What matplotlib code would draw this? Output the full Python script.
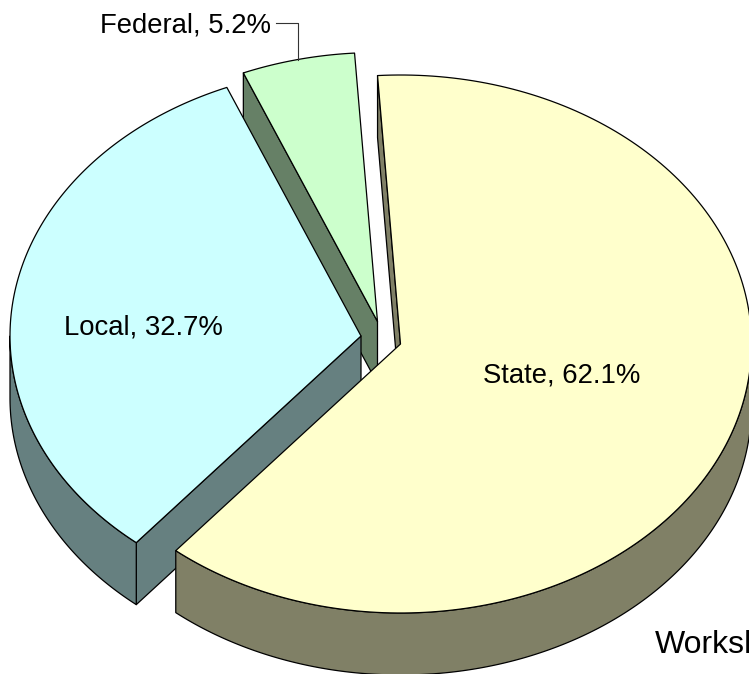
import matplotlib
matplotlib.use("Agg")
import matplotlib.pyplot as plt
from matplotlib.patches import Polygon
import numpy as np

# shares in the order they run clockwise round the pie
CATEGORIES = ["State", "Local", "Federal"]
VALUES = [62.1, 32.7, 5.2]

TOP_COLORS = ["#FFFFCC", "#CCFFFF", "#CCFFCC"]
SIDE_COLORS = ["#808066", "#668080", "#668066"]

# pixel layout of the exploded pie
APEX = [(400.5, 344), (361, 336), (377.5, 321.5)]
LABEL_POS = [(561.5, 382), (143.5, 334), (271, 33)]
LABEL_HA = ["center", "center", "right"]
RX, RY = 351, 269
DEPTH = 62
START_ANGLE = -3.75
EDGE_LW = 0.9


def rim(apex, a0, a1, n=200):
    # points on the ellipse, angles in degrees clockwise from the top
    t = np.radians(np.linspace(a0, a1, n))
    return np.column_stack([apex[0] + RX * np.sin(t), apex[1] - RY * np.cos(t)])


def add_poly(ax, pts, color):
    ax.add_patch(Polygon(pts, closed=True, facecolor=color, edgecolor="black",
                         linewidth=EDGE_LW, joinstyle="round", clip_on=True))


def draw_slice(ax, apex, a0, a1, top, side):
    drop = np.array([0, DEPTH])
    ax_apex = np.array(apex, dtype=float)

    # cut faces, only the ones facing the viewer
    for ang, visible in ((a0, np.sin(np.radians(a0)) < 0), (a1, np.sin(np.radians(a1)) > 0)):
        if visible:
            p = rim(apex, ang, ang, 1)[0]
            add_poly(ax, [ax_apex, p, p + drop, ax_apex + drop], side)

    # outer wall is only visible on the front half
    lo, hi = max(a0, 90), min(a1, 270)
    if lo < hi:
        arc = rim(apex, lo, hi)
        add_poly(ax, np.vstack([arc, arc[::-1] + drop]), side)

    add_poly(ax, np.vstack([ax_apex, rim(apex, a0, a1)]), top)


fig = plt.figure(figsize=(7.49, 6.74), dpi=100)
ax = fig.add_axes([0, 0, 1, 1])
ax.set_xlim(0, 749)
ax.set_ylim(674, 0)
ax.axis("off")

plt.rcParams["font.family"] = ["Liberation Sans", "DejaVu Sans"]

edges = START_ANGLE + np.cumsum([0] + VALUES) / sum(VALUES) * 360

# back slices first, State sits on top of everything
for i in reversed(range(len(VALUES))):
    draw_slice(ax, APEX[i], edges[i], edges[i + 1], TOP_COLORS[i], SIDE_COLORS[i])

for name, val, (x, y), ha in zip(CATEGORIES, VALUES, LABEL_POS, LABEL_HA):
    ax.text(x, y, f"{name}, {val}%", ha=ha, va="baseline", fontsize=19.8, color="black")

# leader line of the Federal label
ax.plot([276, 298, 298], [23, 23, 60], color="#333333", lw=0.8, zorder=1)

# runs off the right edge in the original as well
ax.text(655, 653, "Worksheet", ha="left", va="baseline", fontsize=23,
        color="black", clip_on=True)

fig.savefig("out.png", dpi=100)
